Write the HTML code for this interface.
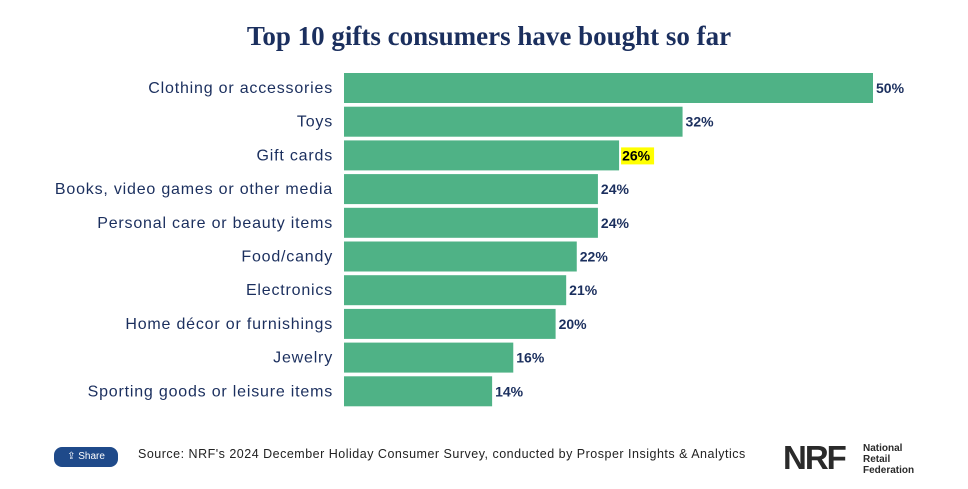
<!DOCTYPE html>
<html><head><meta charset="utf-8"><style>
body{margin:0;background:#fff;width:968px;height:489px;overflow:hidden;font-family:"Liberation Sans",sans-serif}
#t{position:absolute;left:0;width:978px;top:21px;text-align:center;font-family:"Liberation Serif",serif;font-weight:bold;font-size:27px;color:#1b2f5e}
</style></head><body>
<div id="t">Top 10 gifts consumers have bought so far</div>
<svg id="c" width="968" height="489" style="position:absolute;left:0;top:0"></svg>
<div style="position:absolute;left:54px;top:447px;width:64px;height:20px;border-radius:8px;background:#1f4a8a;color:#fff;font-size:10px;line-height:20px;text-align:center">⇪ Share</div>
<div style="position:absolute;left:138px;top:447px;font-size:12.5px;letter-spacing:0.5px;color:#222">Source: NRF's 2024 December Holiday Consumer Survey, conducted by Prosper Insights &amp; Analytics</div>
<div style="position:absolute;left:783px;top:440px;font-size:33px;font-weight:bold;color:#2a2a2a;letter-spacing:-2px;line-height:36px">NRF</div>
<div style="position:absolute;left:863px;top:443px;font-size:10px;font-weight:bold;color:#2a2a2a;line-height:11px">National<br>Retail<br>Federation</div>
<script>
const categories=["Clothing or accessories","Toys","Gift cards","Books, video games or other media","Personal care or beauty items","Food/candy","Electronics","Home décor or furnishings","Jewelry","Sporting goods or leisure items"];
const values=[50,32,26,24,24,22,21,20,16,14];
const highlight=[false,false,true,false,false,false,false,false,false,false];
const svg=document.getElementById('c');const NS='http://www.w3.org/2000/svg';
const x0=344,scale=529/50,y0=73,pitch=33.7,bh=30;
const xf=v=>x0+v*scale, yf=i=>y0+i*pitch;
categories.forEach((c,i)=>{
const y=yf(i);
const r=document.createElementNS(NS,'rect');
r.setAttribute('x',x0);r.setAttribute('y',y);r.setAttribute('width',xf(values[i])-x0);r.setAttribute('height',bh);r.setAttribute('fill','#4fb286');


svg.appendChild(r);
const t=document.createElementNS(NS,'text');
t.setAttribute('x',333);t.setAttribute('y',y+bh/2+5);t.setAttribute('text-anchor','end');t.setAttribute('font-size','16');t.setAttribute('letter-spacing','0.8');t.setAttribute('fill','#1b2f5e');t.setAttribute('font-family','Liberation Sans, sans-serif');t.textContent=c;


svg.appendChild(t);
const lx=xf(values[i])+3;
if(highlight[i]){const h=document.createElementNS(NS,'rect');h.setAttribute('x',lx-1);h.setAttribute('y',y+7);h.setAttribute('width',33);h.setAttribute('height',17);h.setAttribute('fill','#ffff00');


svg.appendChild(h);}
const v=document.createElementNS(NS,'text');
v.setAttribute('x',lx);v.setAttribute('y',y+bh/2+5);v.setAttribute('font-size','14');v.setAttribute('font-weight','bold');v.setAttribute('fill',highlight[i]?'#000':'#1b2f5e');v.setAttribute('font-family','Liberation Sans, sans-serif');v.textContent=values[i]+'%';


svg.appendChild(v);
});
</script>
</body></html>
